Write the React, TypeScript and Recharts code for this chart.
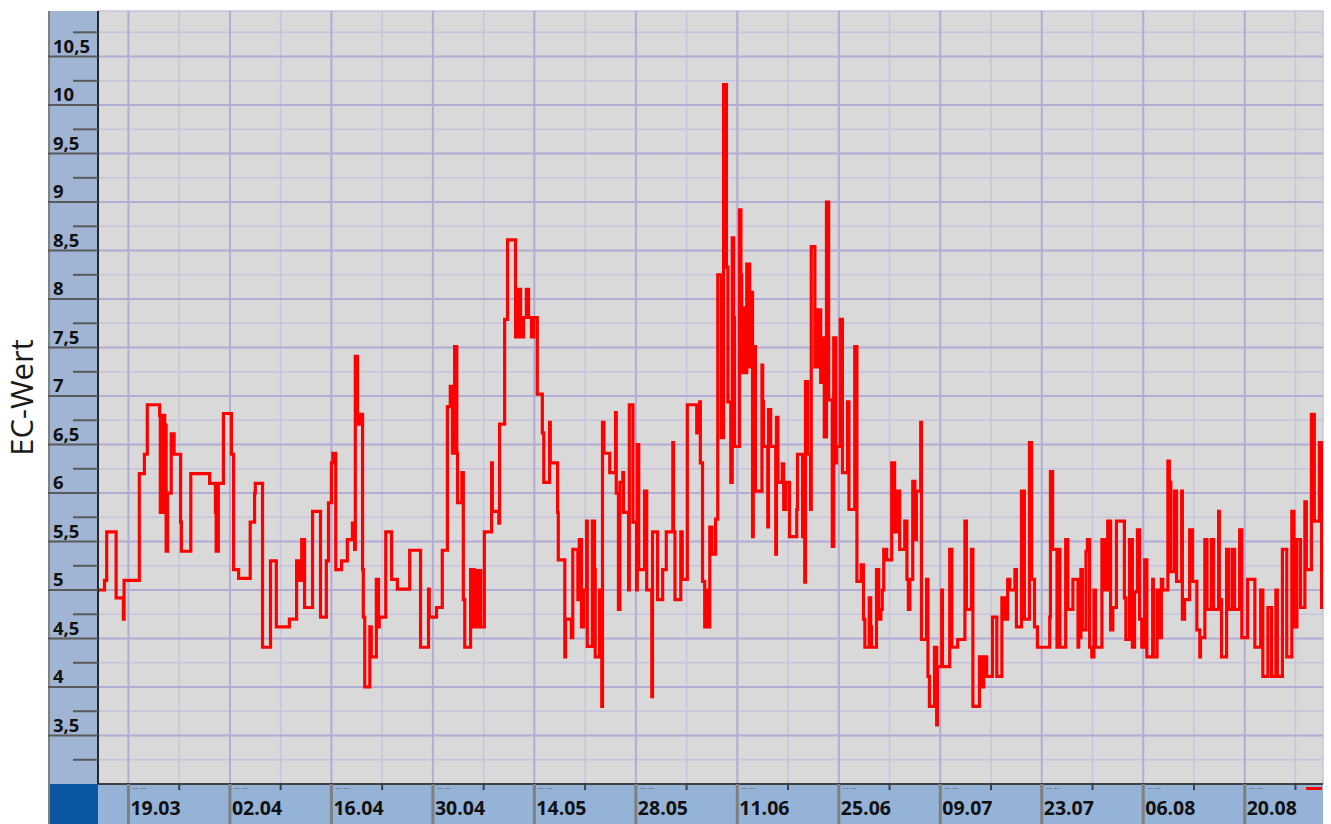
import { LineChart, Line, XAxis, YAxis, CartesianGrid, Label, ReferenceLine } from 'recharts'

// measurement days, counted from 15.03 (day 0)
const measureDays = [
  -0.2, 0.7, 1.0, 2.3, 3.3, 3.4, 5.5, 6.2, 6.6, 8.3, 8.4, 8.6, 8.7, 8.8, 9.0, 9.1, 9.2, 9.4, 9.9, 10.3,
  11.2, 11.3, 12.6, 15.2, 16.0, 16.1, 16.4, 17.1, 18.2, 18.5, 19.2, 20.8, 21.4, 21.5, 22.5, 23.6, 24.4, 26.2, 27.2, 27.6,
  27.9, 28.3, 29.4, 30.5, 31.3, 31.6, 32.0, 32.2, 32.6, 33.4, 34.2, 34.9, 35.2, 35.3, 35.6, 36.0, 36.3, 36.4, 36.6, 37.3,
  37.5, 38.2, 38.5, 38.6, 39.5, 40.3, 41.1, 42.8, 44.3, 45.4, 45.5, 46.5, 47.3, 48.0, 48.4, 48.7, 49.0, 49.3, 49.4, 50.0,
  50.2, 50.4, 51.2, 51.3, 51.6, 51.7, 52.0, 52.2, 52.4, 52.6, 53.1, 54.1, 54.2, 55.1, 55.2, 55.9, 56.3, 57.4, 57.8, 58.1,
  58.5, 58.9, 59.2, 59.6, 59.9, 60.4, 61.1, 61.3, 62.1, 62.2, 63.2, 63.3, 64.2, 64.3, 65.1, 65.3, 66.0, 66.2, 66.5, 66.8,
  67.2, 67.3, 68.0, 68.3, 68.4, 69.0, 69.3, 69.4, 69.6, 70.4, 71.2, 71.3, 71.6, 71.8, 72.2, 72.3, 73.0, 73.1, 73.6, 74.1,
  74.2, 74.4, 75.2, 75.5, 76.2, 76.3, 77.0, 77.7, 78.2, 79.1, 79.2, 79.4, 80.2, 80.4, 81.1, 82.4, 82.8, 82.9, 83.2, 83.5,
  83.8, 84.0, 84.2, 84.5, 85.0, 85.3, 85.8, 86.1, 86.5, 86.7, 87.1, 87.3, 87.5, 87.6, 88.3, 88.5, 88.6, 88.9, 89.0, 89.3,
  89.7, 90.0, 90.1, 90.2, 90.5, 91.4, 91.5, 91.6, 92.2, 92.3, 92.6, 93.3, 93.4, 93.6, 94.2, 94.4, 94.7, 95.2, 96.2, 96.3,
  97.0, 97.3, 97.4, 97.7, 98.1, 98.2, 98.7, 99.1, 99.5, 99.6, 100.0, 100.3, 100.6, 101.1, 101.3, 101.6, 101.7, 102.2, 102.5, 103.2,
  103.4, 104.2, 104.5, 105.1, 105.4, 105.6, 106.2, 106.4, 106.5, 107.2, 107.5, 107.8, 108.0, 108.2, 108.6, 109.3, 109.7, 110.1, 110.4, 111.1,
  111.4, 111.6, 111.8, 112.2, 112.5, 112.7, 113.3, 113.4, 114.1, 114.3, 114.5, 115.2, 115.5, 115.6, 116.2, 116.3, 117.3, 117.6, 118.4, 119.4,
  119.6, 120.3, 120.5, 121.4, 121.6, 122.0, 122.4, 123.2, 123.8, 124.5, 124.9, 125.3, 125.6, 126.3, 126.5, 127.2, 127.6, 128.3, 128.6, 129.0,
  129.4, 131.1, 131.2, 131.5, 132.1, 132.2, 132.5, 133.3, 133.6, 134.3, 135.0, 135.1, 135.2, 135.4, 135.6, 136.1, 136.3, 136.6, 136.9, 137.2,
  137.4, 138.3, 138.7, 139.1, 139.5, 139.8, 140.3, 141.4, 141.6, 142.1, 142.5, 142.8, 143.2, 143.5, 143.8, 144.2, 144.5, 145.3, 145.4, 145.9,
  146.3, 146.5, 146.7, 147.4, 147.6, 147.8, 148.3, 148.6, 149.3, 149.4, 149.7, 150.4, 150.8, 151.4, 151.8, 151.9, 152.5, 152.8, 153.4, 153.7,
  154.4, 154.5, 154.8, 155.5, 155.8, 156.3, 156.6, 157.3, 157.6, 158.4, 159.4, 160.2, 160.5, 161.2, 161.7, 162.3, 162.5, 163.2, 163.8, 164.5,
  164.8, 165.2, 165.7, 166.3, 166.5, 167.2, 167.6, 168.3, 168.6, 168.8,
]

const ecValues = [
  5.0, 5.1, 5.6, 4.92, 4.7, 5.1, 6.2, 6.4, 6.91, 6.8, 5.8, 6.8, 6.0, 6.8, 5.8, 6.7, 5.4, 6.0, 6.61, 6.4,
  5.7, 5.4, 6.2, 6.1, 5.8, 5.4, 6.1, 6.82, 6.4, 5.21, 5.12, 5.7, 6.0, 6.1, 4.41, 5.3, 4.62, 4.7, 5.3, 5.1,
  5.52, 4.82, 5.81, 4.72, 5.3, 5.9, 6.31, 6.41, 5.21, 5.3, 5.52, 5.69, 5.42, 7.41, 6.71, 6.81, 5.21, 4.72, 4.0, 4.62,
  4.31, 5.11, 4.62, 4.72, 5.6, 5.11, 5.01, 5.41, 4.41, 5.01, 4.72, 4.82, 5.41, 6.89, 7.1, 6.41, 7.51, 6.41, 5.9, 6.21,
  4.9, 4.41, 5.21, 4.62, 5.21, 4.62, 5.2, 4.62, 5.2, 4.62, 5.6, 6.31, 5.81, 5.69, 6.71, 7.79, 8.61, 7.61, 8.1, 7.61,
  7.81, 8.1, 7.81, 7.61, 7.81, 7.02, 6.62, 6.11, 6.73, 6.31, 5.8, 5.31, 4.31, 4.7, 4.51, 5.42, 4.9, 5.52, 4.62, 5.0,
  5.71, 4.42, 5.71, 5.21, 4.31, 5.0, 3.8, 6.73, 6.41, 6.21, 6.83, 6.0, 4.8, 6.11, 6.21, 5.8, 5.0, 6.91, 5.7, 5.0,
  6.5, 5.21, 6.02, 5.0, 3.9, 5.6, 4.9, 5.21, 5.6, 6.52, 5.6, 4.9, 5.6, 5.11, 6.91, 6.62, 6.94, 6.31, 5.09, 4.62,
  5.0, 4.62, 5.65, 5.37, 5.73, 8.25, 6.57, 10.21, 8.33, 6.94, 6.11, 8.63, 7.81, 6.48, 8.92, 8.25, 7.24, 7.91, 7.24, 8.36,
  7.3, 8.07, 5.55, 7.51, 6.02, 7.32, 6.94, 6.48, 5.65, 6.86, 6.48, 5.37, 6.78, 6.11, 6.3, 5.83, 6.11, 5.55, 5.83, 6.4,
  5.55, 5.08, 7.15, 6.4, 5.83, 8.54, 7.3, 7.89, 7.14, 7.6, 6.58, 9.0, 6.96, 5.45, 7.6, 6.31, 6.48, 7.79, 6.21, 6.94,
  5.83, 7.51, 5.09, 5.26, 4.7, 4.41, 4.92, 4.62, 4.41, 5.21, 4.7, 4.8, 5.0, 5.42, 5.31, 6.31, 5.6, 6.02, 5.42, 5.71,
  5.11, 4.8, 5.11, 6.12, 5.52, 6.02, 6.73, 4.49, 5.11, 4.11, 3.8, 4.41, 3.61, 4.21, 5.0, 4.21, 5.42, 4.41, 4.49, 5.71,
  4.8, 5.42, 3.8, 4.31, 4.0, 4.31, 4.11, 4.72, 4.11, 4.92, 4.7, 5.11, 5.0, 5.21, 4.62, 6.02, 4.7, 6.52, 5.11, 4.62,
  4.41, 4.72, 6.22, 5.42, 4.41, 5.42, 4.41, 5.52, 4.8, 5.11, 4.41, 5.11, 4.51, 5.21, 4.59, 5.4, 5.52, 4.41, 4.31, 5.0,
  4.41, 5.52, 5.0, 5.71, 4.59, 4.82, 5.71, 4.92, 4.49, 5.52, 4.41, 4.98, 5.62, 4.7, 4.41, 5.31, 4.31, 5.11, 4.31, 5.0,
  4.51, 5.11, 5.0, 6.33, 6.11, 5.19, 6.02, 5.09, 6.02, 4.7, 4.9, 5.62, 5.09, 4.59, 4.31, 4.51, 5.52, 4.8, 5.52, 4.8,
  5.81, 4.9, 4.31, 5.42, 4.8, 5.42, 4.8, 5.62, 4.51, 5.11, 4.41, 5.0, 4.11, 4.82, 4.11, 5.0, 4.11, 5.42, 4.31, 5.81,
  4.62, 5.52, 4.82, 5.91, 5.21, 6.81, 5.71, 6.52, 4.82, 4.82,
]

// weekly grid positions (days from 15.03); every second one carries a date
const weekTicks = [4, 11, 18, 25, 32, 39, 46, 53, 60, 67, 74, 81, 88, 95, 102, 109, 116, 123, 130, 137, 144, 151, 158, 165]
const dateTicks = [4, 18, 32, 46, 60, 74, 88, 102, 116, 130, 144, 158]
const dateLabels = ['19.03', '02.04', '16.04', '30.04', '14.05', '28.05', '11.06', '25.06', '09.07', '23.07', '06.08', '20.08']

const yTicks = [
  3.25, 3.5, 3.75, 4, 4.25, 4.5, 4.75, 5, 5.25, 5.5, 5.75, 6, 6.25, 6.5, 6.75, 7, 7.25, 7.5, 7.75, 8,
  8.25, 8.5, 8.75, 9, 9.25, 9.5, 9.75, 10, 10.25, 10.5, 10.75,
]
const yMajor = [3.5, 4, 4.5, 5, 5.5, 6, 6.5, 7, 7.5, 8, 8.5, 9, 9.5, 10, 10.5]

const chartData = measureDays.map((day, i) => ({ day, ec: ecValues[i] }))

const labelFont = '"Open Sans", "DejaVu Sans", sans-serif'
const majorGrid = '#b2add5'

const YTick = ({ x, y, payload }: any) => {
  const major = Number.isInteger(payload.value * 2)
  return (
    <g>
      <line x1={major ? x - 50 : x - 25} x2={x} y1={y} y2={y} stroke="#595959" strokeWidth={2} />
      {major && (
        <text x={x - 45} y={y - 4} fontFamily={labelFont} fontWeight={700} fontSize={18.5} fill="#111">
          {String(payload.value).replace('.', ',')}
        </text>
      )}
    </g>
  )
}

const XTick = ({ x, y, payload }: any) => {
  const idx = dateTicks.indexOf(payload.value)
  if (idx < 0) {
    return <line x1={x} x2={x} y1={y} y2={y + 6} stroke="#404040" strokeWidth={2} />
  }
  return (
    <g>
      <line x1={x} x2={x} y1={y} y2={y + 40} stroke="#7f7f7f" strokeWidth={3} />
      <text x={x + 4} y={y + 7} fontFamily={labelFont} fontSize={9} fill="#6f6f6f">-- --</text>
      <text x={x + 2} y={y + 31} fontFamily={labelFont} fontWeight={700} fontSize={19.5} fill="#111">
        {dateLabels[idx]}
      </text>
    </g>
  )
}

const AxisTitle = ({ viewBox }: any) => {
  const cy = viewBox.y + viewBox.height / 2
  return (
    <text
      x={33}
      y={cy}
      transform={`rotate(-90 33 ${cy})`}
      textAnchor="middle"
      fontFamily={labelFont}
      fontSize={31}
      fill="#1a1a1a"
    >
      EC-Wert
    </text>
  )
}

export default function App() {
  return (
    <div style={{ position: 'absolute', left: 0, top: 0, width: 1331, height: 824, background: '#fff' }}>
      {/* axis panels behind the chart */}
      <div style={{ position: 'absolute', left: 48, top: 11, width: 48, height: 773, background: '#a0b5d3', borderLeft: '2px solid #7f7f7f' }} />
      <div style={{ position: 'absolute', left: 98, top: 784, width: 1225, height: 40, background: '#95b3d7' }} />
      <div style={{ position: 'absolute', left: 48, top: 784, width: 48, height: 40, background: '#0b56a2', borderLeft: '2px solid #7f7f7f' }} />
      <div style={{ position: 'absolute', left: 1306, top: 787, width: 16, height: 3, background: '#ff0000' }} />
      <LineChart
        width={1331}
        height={824}
        data={chartData}
        margin={{ top: 11, right: 8, bottom: 0, left: 0 }}
      >
        <CartesianGrid fill="#d9d9d9" stroke="#c7c3de" strokeWidth={1.5} />
        {yMajor.map((v) => (
          <ReferenceLine key={`h${v}`} y={v} stroke={majorGrid} strokeWidth={2} />
        ))}
        {dateTicks.map((d) => (
          <ReferenceLine key={`v${d}`} x={d} stroke={majorGrid} strokeWidth={2} />
        ))}
        <XAxis
          dataKey="day"
          type="number"
          domain={[-0.2, 168.8]}
          ticks={weekTicks}
          interval={0}
          height={40}
          tickSize={0}
          tickMargin={0}
          tickLine={false}
          axisLine={{ stroke: '#404040', strokeWidth: 2 }}
          tick={<XTick />}
          allowDataOverflow
        />
        <YAxis
          type="number"
          domain={[3, 10.97]}
          ticks={yTicks}
          interval={0}
          width={98}
          tickSize={0}
          tickMargin={0}
          tickLine={false}
          axisLine={{ stroke: '#262626', strokeWidth: 2 }}
          tick={<YTick />}
          allowDataOverflow
        >
          <Label content={<AxisTitle />} />
        </YAxis>
        <Line
          type="stepAfter"
          dataKey="ec"
          stroke="#ff0000"
          strokeWidth={3.2}
          dot={false}
          activeDot={false}
          isAnimationActive={false}
        />
      </LineChart>
    </div>
  )
}
